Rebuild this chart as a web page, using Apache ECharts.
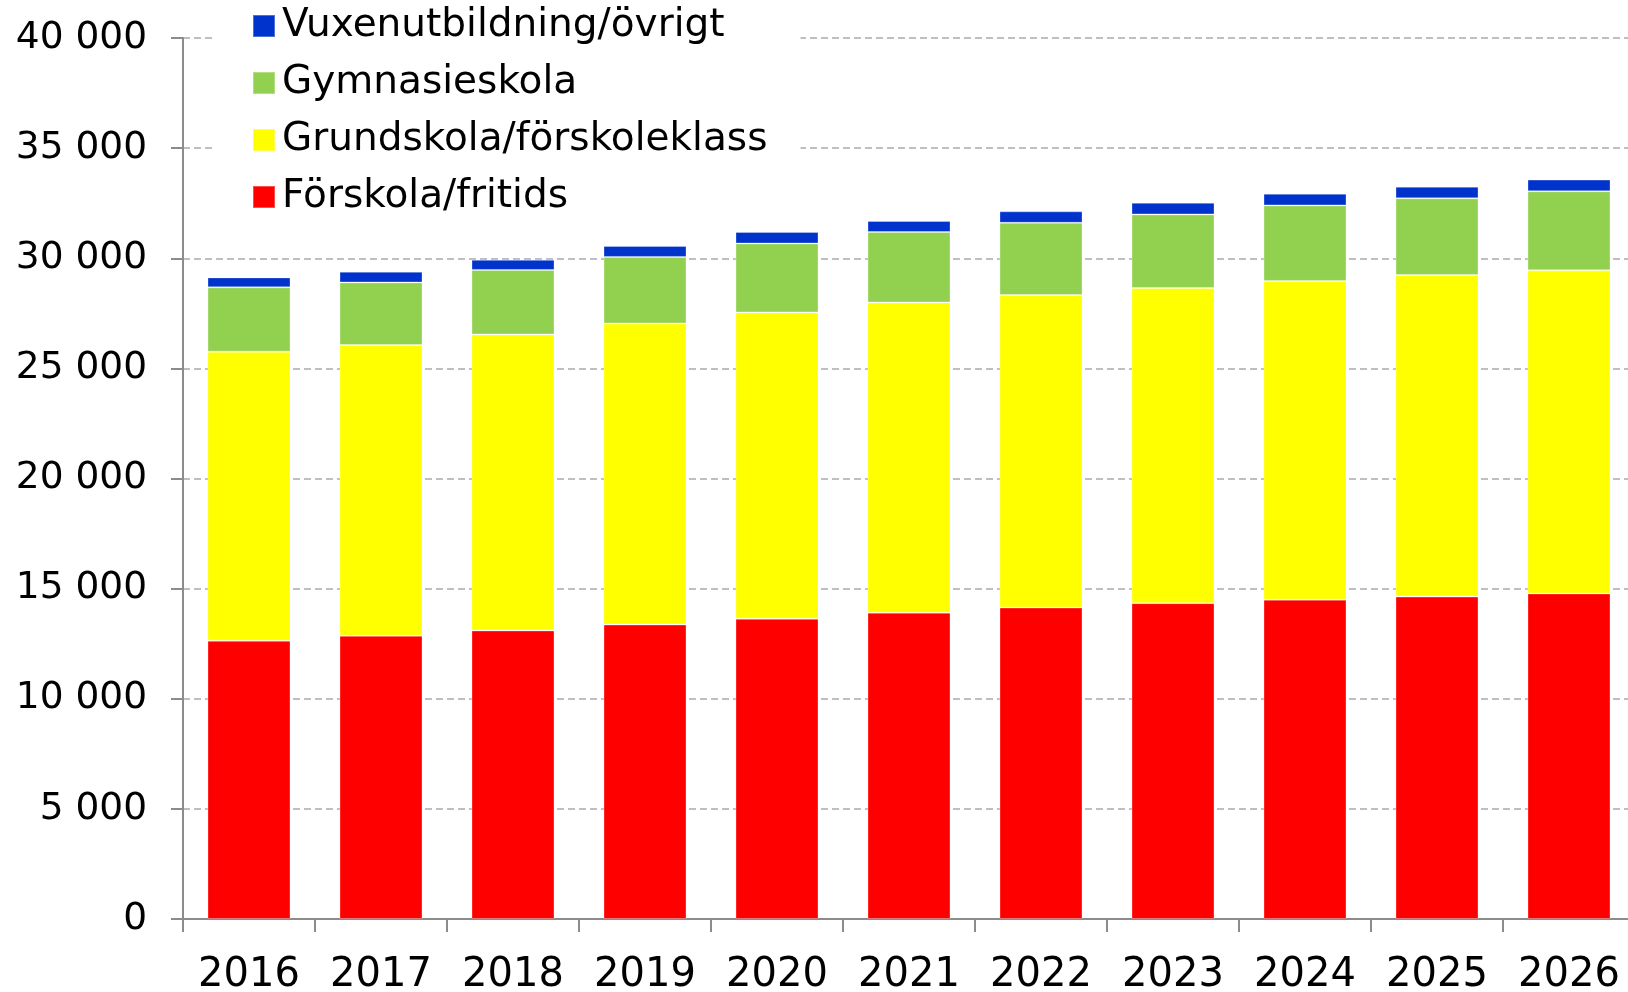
<!DOCTYPE html>
<html>
<head>
<meta charset="utf-8">
<script src="https://cdn.jsdelivr.net/npm/echarts@6/dist/echarts.min.js"></script>
<style>
  html, body { margin: 0; padding: 0; background: #fff; }
  #chart { width: 1628px; height: 992px; }
</style>
</head>
<body>
<div id="chart"></div>
<script>
  // kategorier och serier
  const years = ['2016', '2017', '2018', '2019', '2020', '2021', '2022', '2023', '2024', '2025', '2026']
  const forskola = [12630, 12860, 13100, 13370, 13630, 13910, 14140, 14340, 14500, 14640, 14780]
  const grundskola = [13130, 13200, 13440, 13670, 13910, 14080, 14190, 14310, 14470, 14600, 14670]
  const gymnasieskola = [2920, 2840, 2930, 3020, 3130, 3200, 3280, 3340, 3430, 3480, 3590]
  const vuxen = [450, 490, 460, 500, 520, 500, 520, 530, 530, 530, 530]

  const font = 'DejaVu Sans, Verdana, sans-serif'
  const axisGray = '#8c8c8c'

  const chart = echarts.init(document.getElementById('chart'), null, { renderer: 'canvas' })

  function barSeries(name, data, color) {
    return {
      name: name,
      type: 'bar',
      stack: 'total',
      barWidth: 83,
      data: data,
      itemStyle: {
        color: color,
        borderColor: 'rgba(255,255,255,0.3)',
        borderWidth: 1
      },
      animation: false
    }
  }

  chart.setOption({
    backgroundColor: '#fff',
    animation: false,
    grid: {
      left: 183,
      top: 38,
      bottom: 73,
      width: 1452,
      containLabel: false,
      outerBoundsMode: 'none'
    },
    legend: {
      data: ['Vuxenutbildning/övrigt', 'Gymnasieskola', 'Grundskola/förskoleklass', 'Förskola/fritids'],
      orient: 'vertical',
      left: 213,
      top: 0,
      padding: [6, 33, 10, 39],
      backgroundColor: '#fff',
      itemWidth: 22,
      itemHeight: 22,
      itemGap: 17,
      icon: 'rect',
      textStyle: {
        fontFamily: font,
        fontSize: 39,
        lineHeight: 40,
        color: '#000',
        padding: [0, 0, 0, 2]
      }
    },
    xAxis: {
      type: 'category',
      data: years,
      axisLine: { lineStyle: { color: axisGray, width: 2 } },
      axisTick: { show: true, length: 13, lineStyle: { color: axisGray, width: 2 } },
      axisLabel: {
        fontFamily: font,
        fontSize: 40,
        color: '#000',
        margin: 37,
        interval: 0
      }
    },
    yAxis: {
      type: 'value',
      min: 0,
      max: 40000,
      interval: 5000,
      axisLine: { show: true, lineStyle: { color: axisGray, width: 2 } },
      axisTick: { show: true, length: 12, lineStyle: { color: axisGray, width: 2 } },
      axisLabel: {
        fontFamily: font,
        fontSize: 37.5,
        color: '#000',
        margin: 36,
        padding: [10, 0, 0, 0],
        formatter: v => String(v).replace(/\B(?=(\d{3})+(?!\d))/g, ' ')
      },
      splitLine: {
        lineStyle: { color: '#bfbfbf', width: 2, type: [7, 4] }
      }
    },
    series: [
      barSeries('Förskola/fritids', forskola, '#ff0000'),
      barSeries('Grundskola/förskoleklass', grundskola, '#ffff00'),
      barSeries('Gymnasieskola', gymnasieskola, '#92d050'),
      barSeries('Vuxenutbildning/övrigt', vuxen, '#0033cc')
    ]
  })
</script>
</body>
</html>
